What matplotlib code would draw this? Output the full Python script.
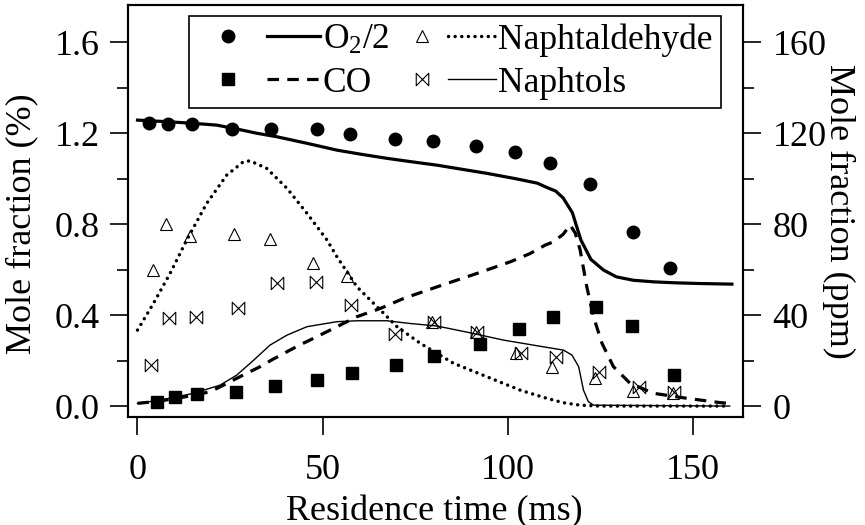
import numpy as np
import matplotlib
matplotlib.use('Agg')
import matplotlib.pyplot as plt
from matplotlib.path import Path
from matplotlib.ticker import MultipleLocator, FormatStrFormatter
from matplotlib.legend_handler import HandlerLine2D

plt.rcParams['font.family'] = ['Liberation Serif', 'DejaVu Serif']
plt.rcParams['mathtext.fontset'] = 'custom'
plt.rcParams['mathtext.rm'] = 'Liberation Serif'
plt.rcParams['mathtext.it'] = 'Liberation Serif:italic'

# ============ experimental points ============
# O2/2 (mole %)
o2_t = [3.0, 8.2, 14.7, 25.5, 36.1, 48.5, 57.5, 69.5, 79.8, 91.5, 101.9, 111.5, 122.3, 133.9, 144.0]
o2_v = [1.245, 1.24, 1.24, 1.22, 1.22, 1.22, 1.195, 1.174, 1.165, 1.143, 1.115, 1.067, 0.975, 0.763, 0.605]
# CO (mole %)
co_t = [5.4, 10.2, 16.0, 26.7, 37.2, 48.6, 57.9, 69.9, 80.2, 92.6, 103.0, 112.2, 124.0, 133.7, 144.9]
co_v = [0.016, 0.038, 0.053, 0.060, 0.088, 0.114, 0.144, 0.180, 0.220, 0.273, 0.338, 0.393, 0.437, 0.353, 0.135]
# naphthaldehyde (ppm)
nald_t = [4.3, 7.6, 14.2, 26.2, 35.8, 47.3, 56.6, 79.7, 91.5, 102.2, 112.0, 123.5, 133.9, 144.6]
nald_v = [59.8, 80.0, 74.7, 75.6, 73.3, 62.7, 57.3, 37.0, 32.7, 23.2, 17.0, 12.2, 6.6, 5.6]
# naphthols (ppm)
nol_t = [3.7, 8.6, 15.8, 27.1, 37.6, 48.2, 57.6, 69.6, 80.0, 91.7, 103.6, 113.1, 124.6, 135.4, 144.9]
nol_v = [18.0, 38.5, 39.3, 43.2, 54.2, 54.6, 44.4, 31.6, 37.1, 32.7, 23.2, 21.7, 14.8, 8.2, 6.3]

# ============ simulations ============
o2_sim_t = [0, 8, 15, 21.4, 27.7, 32, 37.6, 45.8, 53.9, 60, 67.4, 74, 80.9, 88, 94.4, 102, 108,
            110.6, 113, 115, 117.5, 119.8, 122.5, 125.9, 129.4, 134, 139.5, 145, 151.2, 160.6]
o2_sim_v = [1.257, 1.25, 1.243, 1.235, 1.215, 1.2, 1.184, 1.155, 1.125, 1.108, 1.089, 1.074, 1.059,
            1.04, 1.023, 1.0, 0.98, 0.961, 0.945, 0.915, 0.85, 0.73, 0.645, 0.598, 0.568, 0.553,
            0.546, 0.542, 0.539, 0.536]
co_sim_t = [0, 5, 10.6, 15, 19.6, 23, 26.8, 30, 33.1, 36.5, 40.4, 44, 47.6, 53.9, 59.3, 65.6, 71.9,
            80.9, 91.7, 100.7, 106, 110.2, 112.4, 115, 116.9, 118.3, 119.6, 121.4, 123.2, 125.5,
            128.6, 133.1, 139.5, 148.5, 157.5, 160]
co_sim_v = [0.012, 0.02, 0.034, 0.047, 0.063, 0.09, 0.122, 0.148, 0.173, 0.205, 0.239, 0.27, 0.298,
            0.349, 0.393, 0.429, 0.473, 0.524, 0.583, 0.634, 0.67, 0.708, 0.722, 0.755, 0.796, 0.76,
            0.686, 0.524, 0.393, 0.276, 0.173, 0.1, 0.056, 0.034, 0.015, 0.012]
nald_sim_t = [0, 4.3, 8.8, 13.3, 18.7, 24.1, 28.6, 30.4, 34.9, 40.4, 45.8, 51.2, 53.9, 59.3, 64.7,
              70.1, 76.4, 85.4, 94.4, 103.4, 110.6, 115, 119.6, 125, 160]
nald_sim_v = [33.4, 45.1, 58.3, 73, 89.1, 101.5, 107.4, 107.8, 104.5, 95.7, 84.7, 73, 65.6, 52.4,
              43.7, 34.9, 27.6, 18.8, 12.9, 7, 3.4, 1.5, 0.4, 0, 0]
nol_sim_t = [0, 6.1, 15.1, 22.3, 26.8, 31.4, 35.8, 40.4, 45.8, 53.9, 59.3, 67.4, 73.7, 80.9, 89.9,
             98.9, 110.6, 115.1, 117.4, 119.2, 120.5, 121.8, 123.2, 160]
nol_sim_v = [1.2, 2.6, 5.6, 9.2, 13.6, 20.2, 26.8, 31.2, 34.9, 37.1, 37.5, 37.5, 36.3, 35.2, 32.2,
             29, 25.8, 24.6, 22.4, 17.3, 7, 2, 0.4, 0]

FS = 26
LEG_FS = 25.5

# bow-tie marker
bowtie = Path([(-1, 1), (1, -1), (1, 1), (-1, -1), (-1, 1)],
              [Path.MOVETO, Path.LINETO, Path.LINETO, Path.LINETO, Path.CLOSEPOLY])

fig = plt.figure(figsize=(8.65, 5.25), dpi=100)
ax = fig.add_axes([127.5 / 865, 108 / 525, (743 - 127.5) / 865, (417 - 5) / 525])
ax2 = ax.twinx()

# left axis (%)
l_o2s, = ax.plot(o2_sim_t, o2_sim_v, color='black', lw=2.3)
l_cos, = ax.plot(co_sim_t, co_sim_v, color='black', lw=2.3, linestyle=(0, (3.6, 2.6)))
p_o2, = ax.plot(o2_t, o2_v, 'o', color='black', ms=9)
p_co, = ax.plot(co_t, co_v, 's', color='black', ms=9)

# right axis (ppm)
l_nals, = ax2.plot(nald_sim_t, nald_sim_v, color='black', lw=2.5, linestyle=(0, (0.01, 1.9)),
                   dash_capstyle='round')
l_nols, = ax2.plot(nol_sim_t, nol_sim_v, color='black', lw=1.0)
p_nal, = ax2.plot(nald_t, nald_v, '^', color='black', mfc='none', ms=9, mew=0.8)
p_nol, = ax2.plot(nol_t, nol_v, marker=bowtie, ls='none', color='black', mfc='none', ms=9, mew=0.8)

ax.set_xlim(-2.7, 163.6)
ax.set_ylim(-0.048, 1.763)
ax2.set_ylim(-4.8, 176.3)

ax.xaxis.set_major_locator(MultipleLocator(50))
ax.yaxis.set_major_locator(MultipleLocator(0.4))
ax.yaxis.set_minor_locator(MultipleLocator(0.2))
ax.yaxis.set_major_formatter(FormatStrFormatter('%.1f'))
ax2.yaxis.set_major_locator(MultipleLocator(40))
ax2.yaxis.set_minor_locator(MultipleLocator(20))

for a in (ax, ax2):
    a.tick_params(which='major', direction='out', length=13.3, width=1.2, labelsize=FS, pad=6.5)
    a.tick_params(which='minor', direction='out', length=8, width=1.2)
    for s in a.spines.values():
        s.set_linewidth(1.5)
ax.tick_params(axis='x', pad=13.5)
ax2.tick_params(axis='y', pad=8)

ax.set_xlabel('Residence time (ms)', fontsize=FS)
ax.xaxis.set_label_coords(0.499, -0.19)
ax.set_ylabel('Mole fraction (%)', fontsize=FS)
ax.yaxis.set_label_coords(-0.145, 0.47)
ax2.set_ylabel('Mole fraction (ppm)', fontsize=FS, rotation=-90, va='bottom')
ax2.yaxis.set_label_coords(1.128, 0.5)

# legend: marker column + line column, twice
handles = [p_o2, p_co, l_o2s, l_cos, p_nal, p_nol, l_nals, l_nols]
labels = ['', '', 'O$_2$/2', 'CO', '', '', 'Naphtaldehyde', 'Naphtols']
hmap = {p_o2: HandlerLine2D(xpad=-0.155), p_co: HandlerLine2D(xpad=-0.155),
        l_o2s: HandlerLine2D(xpad=0.452), l_cos: HandlerLine2D(xpad=0.452),
        p_nal: HandlerLine2D(xpad=0.861), p_nol: HandlerLine2D(xpad=0.861),
        l_nals: HandlerLine2D(xpad=0.607), l_nols: HandlerLine2D(xpad=0.607)}
leg = ax2.legend(handles, labels, handler_map=hmap, ncol=4, loc='upper left',
                 bbox_to_anchor=(0.0993, 0.9745), borderaxespad=0, fontsize=LEG_FS,
                 handlelength=1.962, handletextpad=0.07, columnspacing=-0.494,
                 labelspacing=0.28, borderpad=0.22, fancybox=False, framealpha=1,
                 edgecolor='black')
leg.get_frame().set_linewidth(1.2)

fig.savefig('out.png', dpi=100, facecolor='white')
